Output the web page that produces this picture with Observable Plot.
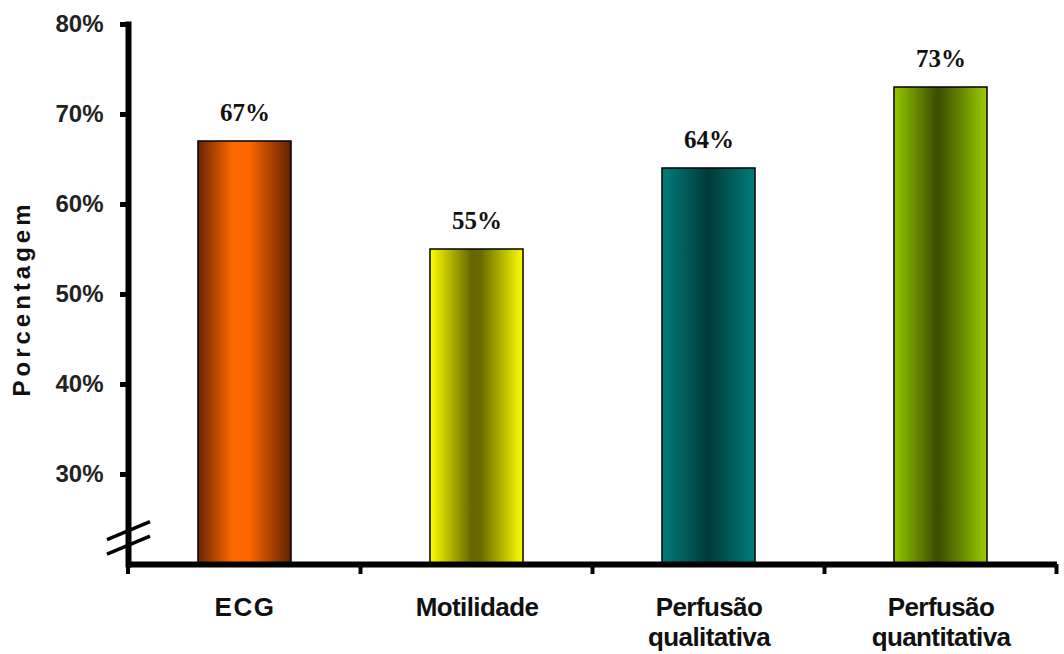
<!DOCTYPE html>
<html>
<head>
<meta charset="utf-8">
<script src="https://cdn.jsdelivr.net/npm/d3@7"></script>
<script src="https://cdn.jsdelivr.net/npm/@observablehq/plot@0.6"></script>
<style>
  html, body { margin: 0; padding: 0; background: #fff; }
  #chart svg { display: block; }
</style>
</head>
<body>
<div id="chart"></div>
<script>
// Sensitivity by method (%)
const categories = ["ECG", "Motilidade", "Perfusão\nqualitativa", "Perfusão\nquantitativa"];
const values = [67, 55, 64, 73];
const gradientIds = ["g-ecg", "g-mot", "g-qual", "g-quant"];
const yTicks = [30, 40, 50, 60, 70, 80];
const yDomain = [20, 80];
// axis-break slashes, in percent units on the y scale
const breakMarks = [23.7, 22.1];

const data = categories.map((c, i) => ({category: c, value: values[i], fill: `url(#${gradientIds[i]})`}));

const chart = Plot.plot({
  width: 1064,
  height: 654,
  marginLeft: 128,
  marginRight: 7,
  marginTop: 24,
  marginBottom: 90,
  style: {background: "#fff", color: "#000"},
  x: {domain: categories, paddingInner: 0.6, paddingOuter: 0.3},
  y: {domain: yDomain},
  color: {type: "identity"},
  marks: [
    Plot.barY(data, {x: "category", y1: d => yDomain[0], y2: "value", fill: "fill", stroke: "#000", strokeWidth: 1.5}),
    Plot.text(data, {
      x: "category", y: "value", text: d => `${d.value}%`,
      lineAnchor: "bottom", dy: -21,
      fontFamily: "'Liberation Serif', 'Times New Roman', serif", fontWeight: "bold", fontSize: 25, fill: "#111"
    }),
    Plot.axisY({
      ticks: yTicks, tickFormat: d => `${d}%`, tickSize: 8, tickPadding: 17,
      strokeWidth: 5, label: null,
      fontFamily: "'Liberation Sans', Arial, sans-serif", fontWeight: "bold", fontSize: 24, fill: "#222"
    }),
    Plot.axisX({
      tickSize: 0, tickPadding: 30, label: null, lineHeight: 1.15,
      fontFamily: "'Liberation Sans', Arial, sans-serif", fontWeight: "bold", fontSize: 26, fill: "#111"
    }),
    Plot.text(["Porcentagem"], {
      frameAnchor: "left", textAnchor: "middle", rotate: -90, dx: -106, dy: 4,
      fontFamily: "'Liberation Sans', Arial, sans-serif", fontWeight: "bold", fontSize: 24, fill: "#111"
    }),
    Plot.frame({anchor: "left", strokeWidth: 6, stroke: "#000"}),
    Plot.ruleY([yDomain[0]], {strokeWidth: 6, stroke: "#000"})
  ]
});

document.getElementById("chart").appendChild(chart);

// Cylinder-style shading for each bar
const stops = {
  "g-ecg":   [[0, "#6a2600"], [0.38, "#ff6a00"], [0.55, "#ff6600"], [1, "#5e2200"]],
  "g-mot":   [[0, "#ffff00"], [0.45, "#646600"], [0.55, "#6a6c00"], [1, "#ffff00"]],
  "g-qual":  [[0, "#007e7a"], [0.5, "#003a38"], [1, "#007e7a"]],
  "g-quant": [[0, "#94c800"], [0.47, "#3a4c00"], [0.55, "#465e00"], [1, "#9ccc00"]]
};
const svg = d3.select(chart);
const defs = svg.insert("defs", ":first-child");
for (const id of gradientIds) {
  const g = defs.append("linearGradient").attr("id", id).attr("x1", 0).attr("x2", 1).attr("y1", 0).attr("y2", 0);
  for (const [o, c] of stops[id]) g.append("stop").attr("offset", o).attr("stop-color", c);
}

// Letter tracking: tight for the category names, wider for "ECG" and the y title
svg.selectAll("[aria-label='x-axis tick label'] text")
  .attr("letter-spacing", function () { return this.textContent === "ECG" ? "1.5px" : "-0.6px"; });
svg.selectAll("text")
  .filter(function () { return this.textContent === "Porcentagem"; })
  .attr("letter-spacing", "4px");

// Category boundary ticks below the x axis, and the axis-break slashes
const xs = chart.scale("x");
const ys = chart.scale("y");
const y0 = ys.apply(yDomain[0]);
const left = xs.range[0];
const ticks = svg.append("g").attr("stroke", "#000").attr("stroke-width", 4);
ticks.append("line").attr("x1", left).attr("x2", left).attr("y1", y0).attr("y2", y0 + 10);
for (const c of categories) {
  const bx = xs.apply(c) + xs.bandwidth + (xs.step - xs.bandwidth) / 2;
  ticks.append("line").attr("x1", bx).attr("x2", bx).attr("y1", y0).attr("y2", y0 + 10);
}
const slashes = svg.append("g").attr("stroke", "#000").attr("stroke-width", 3.5);
for (const v of breakMarks) {
  const py = ys.apply(v);
  slashes.append("line").attr("x1", left - 21).attr("y1", py + 9).attr("x2", left + 22).attr("y2", py - 9);
}
</script>
</body>
</html>
